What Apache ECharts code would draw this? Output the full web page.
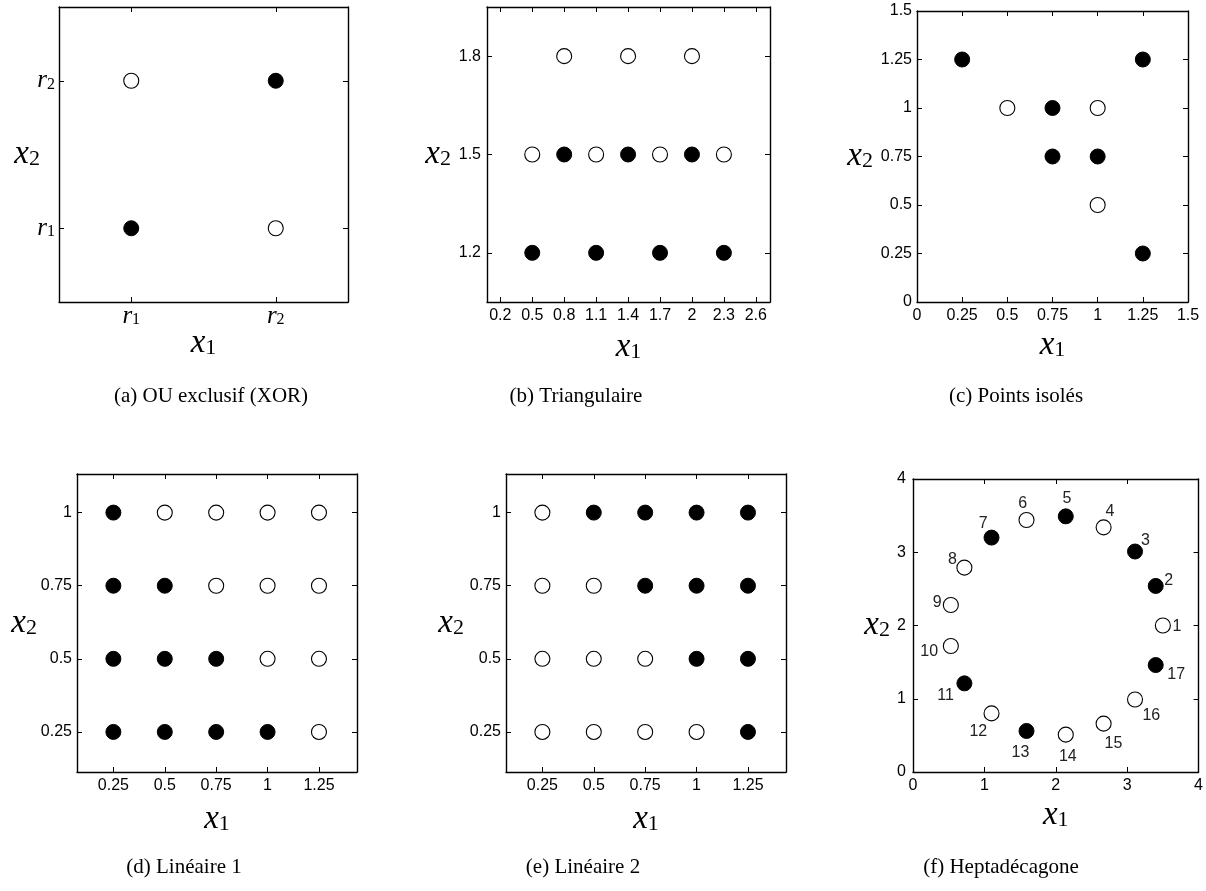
<!DOCTYPE html>
<html>
<head>
<meta charset="utf-8">
<script src="https://cdn.jsdelivr.net/npm/echarts@6/dist/echarts.min.js"></script>
<style>
  html, body { margin: 0; padding: 0; background: #fff; }
  #chart { width: 1206px; height: 891px; }
</style>
</head>
<body>
<div id="chart"></div>
<script>
// ---- (a) OU exclusif (XOR) ----
const xorFilled = [[1, 1], [2, 2]];
const xorEmpty = [[1, 2], [2, 1]];
const xorTickValues = [1, 2];
const xorTickLabels = ['r1', 'r2'];

// ---- (b) Triangulaire ----
const triFilled = [[0.8, 1.5], [1.4, 1.5], [2.0, 1.5], [0.5, 1.2], [1.1, 1.2], [1.7, 1.2], [2.3, 1.2]];
const triEmpty = [[0.8, 1.8], [1.4, 1.8], [2.0, 1.8], [0.5, 1.5], [1.1, 1.5], [1.7, 1.5], [2.3, 1.5]];
const triXTicks = [0.2, 0.5, 0.8, 1.1, 1.4, 1.7, 2, 2.3, 2.6];
const triYTicks = [1.2, 1.5, 1.8];

// ---- (c) Points isolés ----
const isoFilled = [[0.25, 1.25], [1.25, 1.25], [0.75, 1], [0.75, 0.75], [1, 0.75], [1.25, 0.25]];
const isoEmpty = [[0.5, 1], [1, 1], [1, 0.5]];
const isoTicks = [0, 0.25, 0.5, 0.75, 1, 1.25, 1.5];

// ---- (d) Linéaire 1 ----
const lin1Filled = [[0.25, 1], [0.25, 0.75], [0.5, 0.75], [0.25, 0.5], [0.5, 0.5], [0.75, 0.5],
                    [0.25, 0.25], [0.5, 0.25], [0.75, 0.25], [1, 0.25]];
const lin1Empty = [[0.5, 1], [0.75, 1], [1, 1], [1.25, 1], [0.75, 0.75], [1, 0.75], [1.25, 0.75],
                   [1, 0.5], [1.25, 0.5], [1.25, 0.25]];

// ---- (e) Linéaire 2 ----
const lin2Filled = [[0.5, 1], [0.75, 1], [1, 1], [1.25, 1], [0.75, 0.75], [1, 0.75], [1.25, 0.75],
                    [1, 0.5], [1.25, 0.5], [1.25, 0.25]];
const lin2Empty = [[0.25, 1], [0.25, 0.75], [0.5, 0.75], [0.25, 0.5], [0.5, 0.5], [0.75, 0.5],
                   [0.25, 0.25], [0.5, 0.25], [0.75, 0.25], [1, 0.25]];
const linXTicks = [0.25, 0.5, 0.75, 1, 1.25];
const linYTicks = [0.25, 0.5, 0.75, 1];

// ---- (f) Heptadécagone (vertices numbered 1..17) ----
const heptaVertices = [
  [3.50, 2.00], [3.40, 2.54], [3.11, 3.01], [2.67, 3.34], [2.14, 3.49], [1.59, 3.44],
  [1.10, 3.20], [0.72, 2.79], [0.53, 2.28], [0.53, 1.72], [0.72, 1.21], [1.10, 0.80],
  [1.59, 0.56], [2.14, 0.51], [2.67, 0.66], [3.11, 0.99], [3.40, 1.46]
];
const heptaFilledNumbers = [2, 3, 5, 7, 11, 13, 17];
const heptaTicks = [0, 1, 2, 3, 4];

const captions = [
  '(a) OU exclusif (XOR)', '(b) Triangulaire', '(c) Points isolés',
  '(d) Linéaire 1', '(e) Linéaire 2', '(f) Heptadécagone'
];

// ---- styling helpers ----
const SANS = '"Liberation Sans", Arial, sans-serif';
const SERIF = '"Liberation Serif", "Times New Roman", serif';
const BLACK = '#000';

const mathRich = {
  v: { fontFamily: SERIF, fontStyle: 'italic', fontSize: 33, lineHeight: 32, color: BLACK },
  s: { fontFamily: SERIF, fontSize: 22, lineHeight: 17, verticalAlign: 'bottom', color: BLACK }
};
const tickRich = {
  v: { fontFamily: SERIF, fontStyle: 'italic', fontSize: 25, lineHeight: 24, color: BLACK },
  s: { fontFamily: SERIF, fontSize: 16, lineHeight: 13, verticalAlign: 'bottom', color: BLACK }
};
// "x1" -> italic x with an upright subscript 1
const mathLabel = (s) => '{v|' + s[0] + '}{s|' + s.slice(1) + '}';

const grids = [
  { left: 59, top: 7, width: 289, height: 295 },
  { left: 487, top: 7, width: 283, height: 295 },
  { left: 917, top: 11, width: 271, height: 291 },
  { left: 77, top: 474, width: 280, height: 298 },
  { left: 506, top: 474, width: 280, height: 298 },
  { left: 913, top: 479, width: 287, height: 293 }
];

// axis settings for each panel
const panels = [
  { x: [0.5, 2.5], y: [0.5, 2.5], xt: xorTickValues, yt: xorTickValues, math: true,
    xGap: 25, yGap: 19, xMargin: 2, yMargin: 4 },
  { x: [0.075, 2.733], y: [1.05, 1.95], xt: triXTicks, yt: triYTicks,
    xGap: 29, yGap: 36, xMargin: 6, yMargin: 6 },
  { x: [0, 1.5], y: [0, 1.5], xt: isoTicks, yt: isoTicks,
    xGap: 27, yGap: 44, xMargin: 6, yMargin: 5 },
  { x: [0.073, 1.435], y: [0.113, 1.132], xt: linXTicks, yt: linYTicks,
    xGap: 31, yGap: 40, xMargin: 6, yMargin: 5 },
  { x: [0.073, 1.435], y: [0.113, 1.132], xt: linXTicks, yt: linYTicks,
    xGap: 31, yGap: 42, xMargin: 6, yMargin: 5 },
  { x: [0, 4], y: [0, 4], xt: heptaTicks, yt: heptaTicks,
    xGap: 27, yGap: 23, xMargin: 6, yMargin: 7 }
];

const xAxes = [];
const yAxes = [];
panels.forEach((p, i) => {
  const line = { show: true, onZero: false, lineStyle: { color: BLACK, width: 1.4 } };
  const tickFmt = (vals, labels) => (v) => {
    if (!p.math) return String(v);
    const k = vals.indexOf(v);
    return k >= 0 ? mathLabel(labels[k]) : '';
  };
  const lblBase = (vals, margin) => ({
    show: true, customValues: vals, margin: margin,
    fontFamily: SANS, fontSize: 16, color: BLACK,
    formatter: tickFmt(vals, xorTickLabels),
    rich: tickRich
  });
  const tick = (vals) => ({ show: true, inside: true, length: 5, customValues: vals,
    lineStyle: { color: BLACK, width: 1 } });
  // bottom / left axes with labels and titles
  xAxes.push({
    gridIndex: i, type: 'value', position: 'bottom', min: p.x[0], max: p.x[1],
    axisLine: line, axisTick: tick(p.xt), axisLabel: lblBase(p.xt, p.xMargin),
    splitLine: { show: false },
    name: mathLabel('x1'), nameLocation: 'middle', nameGap: p.xGap, nameMoveOverlap: false,
    nameTextStyle: { rich: mathRich }
  });
  yAxes.push({
    gridIndex: i, type: 'value', position: 'left', min: p.y[0], max: p.y[1],
    axisLine: line, axisTick: tick(p.yt), axisLabel: lblBase(p.yt, p.yMargin),
    splitLine: { show: false },
    name: mathLabel('x2'), nameLocation: 'middle', nameGap: p.yGap, nameRotate: 0,
    nameMoveOverlap: false,
    nameTextStyle: { rich: mathRich, align: 'right', verticalAlign: 'middle' }
  });
  // mirrored top / right axes closing the box
  xAxes.push({
    gridIndex: i, type: 'value', position: 'top', min: p.x[0], max: p.x[1],
    axisLine: line, axisTick: tick(p.xt), axisLabel: { show: false },
    splitLine: { show: false }
  });
  yAxes.push({
    gridIndex: i, type: 'value', position: 'right', min: p.y[0], max: p.y[1],
    axisLine: line, axisTick: tick(p.yt), axisLabel: { show: false },
    splitLine: { show: false }
  });
});

const MARK = 15;
const filledStyle = { color: BLACK, borderColor: BLACK, borderWidth: 1, opacity: 1 };
const emptyStyle = { color: '#fff', borderColor: BLACK, borderWidth: 1.1, opacity: 1 };

function scatterPair(panelIndex, filled, empty) {
  const base = { type: 'scatter', xAxisIndex: panelIndex * 2, yAxisIndex: panelIndex * 2,
    symbol: 'circle', symbolSize: MARK, silent: true, z: 5 };
  return [
    Object.assign({}, base, { data: empty, itemStyle: emptyStyle }),
    Object.assign({}, base, { data: filled, itemStyle: filledStyle })
  ];
}

// heptadecagon: label each vertex with its number, pushed outward from the centre
const cx = heptaVertices.reduce((s, v) => s + v[0], 0) / heptaVertices.length;
const cy = heptaVertices.reduce((s, v) => s + v[1], 0) / heptaVertices.length;
function heptaItem(v, idx) {
  const n = idx + 1;
  const ang = Math.atan2(v[1] - cy, v[0] - cx);
  const wide = String(n).length > 1;
  const rx = wide ? 22 : 14;
  const ry = wide ? 21 : 19;
  return {
    value: [v[0], v[1], n],
    label: { offset: [Math.cos(ang) * rx, -Math.sin(ang) * ry + 1.5] }
  };
}
const heptaFilled = [];
const heptaEmpty = [];
heptaVertices.forEach((v, idx) => {
  (heptaFilledNumbers.includes(idx + 1) ? heptaFilled : heptaEmpty).push(heptaItem(v, idx));
});
const heptaLabel = { show: true, position: 'inside', formatter: (p) => String(p.value[2]),
  fontFamily: SANS, fontSize: 16, color: '#222' };

const series = [].concat(
  scatterPair(0, xorFilled, xorEmpty),
  scatterPair(1, triFilled, triEmpty),
  scatterPair(2, isoFilled, isoEmpty),
  scatterPair(3, lin1Filled, lin1Empty),
  scatterPair(4, lin2Filled, lin2Empty),
  scatterPair(5, heptaFilled, heptaEmpty).map((s) => Object.assign(s, { label: heptaLabel }))
);

// sub-figure captions
const captionPos = [[211, 396], [576, 396], [1016, 396], [184, 867], [583, 867], [1001, 867]];
const graphic = captions.map((t, i) => ({
  type: 'text', x: captionPos[i][0], y: captionPos[i][1], silent: true,
  style: { text: t, font: '21px ' + SERIF, fill: BLACK, textAlign: 'center', textVerticalAlign: 'middle' }
}));

const chart = echarts.init(document.getElementById('chart'), null, { renderer: 'canvas' });
chart.setOption({
  backgroundColor: '#fff',
  animation: false,
  grid: grids.map((g) => Object.assign({ containLabel: false }, g)),
  xAxis: xAxes,
  yAxis: yAxes,
  series: series,
  graphic: graphic
});
</script>
</body>
</html>
